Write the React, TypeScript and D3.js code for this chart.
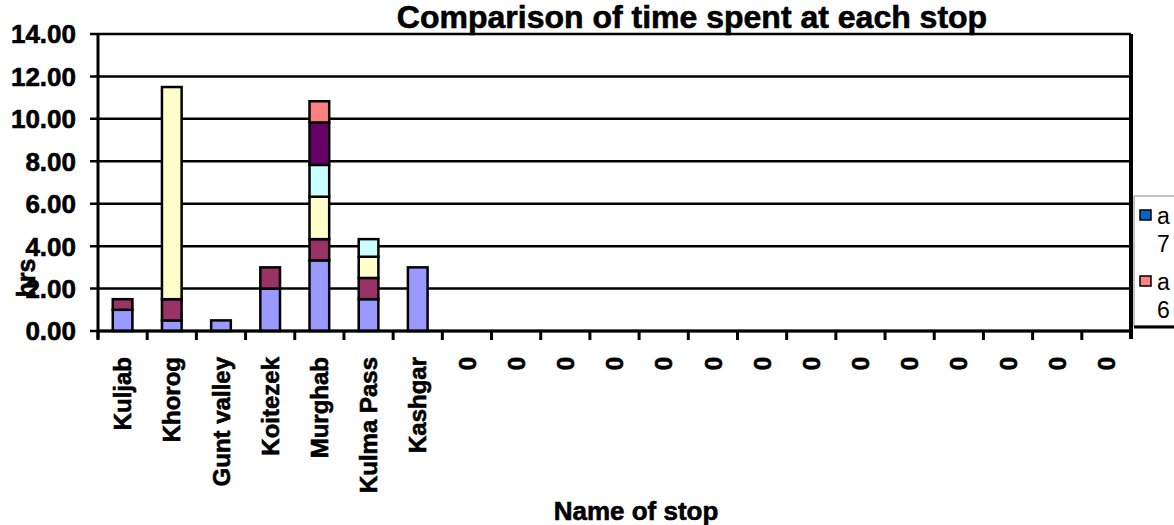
import * as d3 from 'd3';

// Stops along the route; the empty tail of the sheet shows up as "0".
const stops = [
  'Kuljab', 'Khorog', 'Gunt valley', 'Koitezek', 'Murghab', 'Kulma Pass', 'Kashgar',
  '0', '0', '0', '0', '0', '0', '0', '0', '0', '0', '0', '0', '0', '0',
];

// Hours per segment, stacked bottom to top.
const seriesA = [1.0, 0.5, 0.5, 2.0, 3.33, 1.5, 3.0];
const seriesB = [0.5, 1.0, 0, 1.0, 1.0, 1.0, 0];
const seriesC = [0, 10.0, 0, 0, 2.0, 1.0, 0];
const seriesD = [0, 0, 0, 0, 1.5, 0.83, 0];
const seriesE = [0, 0, 0, 0, 2.0, 0, 0];
const seriesF = [0, 0, 0, 0, 1.0, 0, 0];
const seriesColors = ['#9999FF', '#993366', '#FFFFCC', '#CCFFFF', '#660066', '#FF8080'];

const yTicks = [0, 2, 4, 6, 8, 10, 12, 14];

// Clipped legend, only two entries fit in the visible part
const legendItems = [
  { color: '#0066CC', lines: ['a', '7'] },
  { color: '#FF8080', lines: ['a', '6'] },
];

const W = 1174;
const H = 525;
const M = { left: 98, right: 1131, top: 34, bottom: 331 };
const FONT = '"Liberation Sans", Arial, sans-serif';
// the old excel render has very heavy bold text, a thin stroke fakes it
const heavy = { fontWeight: 'bold', stroke: '#000', strokeWidth: 0.6 } as const;

export default function App() {
  const keys = ['a', 'b', 'c', 'd', 'e', 'f'];
  const all = [seriesA, seriesB, seriesC, seriesD, seriesE, seriesF];
  const rows = stops.map((_, i) => {
    const r: Record<string, number> = { i };
    keys.forEach((k, j) => (r[k] = all[j][i] ?? 0));
    return r;
  });
  const stacked = d3.stack<Record<string, number>>().keys(keys)(rows);

  const x = d3
    .scaleBand<number>()
    .domain(stops.map((_, i) => i))
    .range([M.left, M.right])
    .paddingInner(0.6)
    .paddingOuter(0.3);
  const y = d3.scaleLinear().domain([0, 14]).range([M.bottom, M.top]);
  const step = x.step();
  const edgeX = (i: number) => M.left + i * step;

  return (
    <svg
      width={W}
      height={H}
      style={{ position: 'absolute', left: 0, top: 0, background: '#fff' }}
      fontFamily={FONT}
    >
      {/* gridlines */}
      {yTicks.map((t) => (
        <line key={t} x1={M.left - 8} x2={M.right} y1={y(t)} y2={y(t)} stroke="#000" strokeWidth={2.5} />
      ))}
      {yTicks.map((t) => (
        <text key={`l${t}`} x={76} y={y(t)} dy="0.36em" textAnchor="end" fontSize={26} {...heavy}>
          {t.toFixed(2)}
        </text>
      ))}

      {/* bars */}
      {stacked.map((s, j) => (
        <g key={s.key}>
          {s.map((d, i) =>
            d[1] - d[0] > 0 ? (
              <rect
                key={i}
                x={x(i)}
                width={x.bandwidth()}
                y={y(d[1])}
                height={y(d[0]) - y(d[1])}
                fill={seriesColors[j]}
                stroke="#000"
                strokeWidth={2.5}
              />
            ) : null,
          )}
        </g>
      ))}

      {/* axes */}
      <line x1={M.left} x2={M.left} y1={M.top} y2={M.bottom + 8} stroke="#000" strokeWidth={3} />
      <line x1={M.right} x2={M.right} y1={M.top} y2={M.bottom + 8} stroke="#000" strokeWidth={4} />
      <line x1={M.left} x2={M.right} y1={M.bottom} y2={M.bottom} stroke="#000" strokeWidth={3} />
      {stops.map((_, i) => (
        <line key={`t${i}`} x1={edgeX(i)} x2={edgeX(i)} y1={M.bottom} y2={M.bottom + 9} stroke="#000" strokeWidth={3} />
      ))}
      {stops.map((s, i) => {
        const cx = (x(i) ?? 0) + x.bandwidth() / 2;
        return (
          <text
            key={`c${i}`}
            transform={`translate(${cx},357) rotate(-90)`}
            dy="0.36em"
            textAnchor="end"
            fontSize={24}
            {...heavy}
          >
            {s}
          </text>
        );
      })}

      {/* titles */}
      <text x={692} y={28} textAnchor="middle" fontSize={32} {...heavy}>
        Comparison of time spent at each stop
      </text>
      <text x={636} y={520} textAnchor="middle" fontSize={26} {...heavy}>
        Name of stop
      </text>
      <text transform="translate(35,278) rotate(-90)" textAnchor="middle" fontSize={25} {...heavy}>
        hrs
      </text>

      {/* legend */}
      <rect x={1134} y={196} width={60} height={130} fill="#fff" stroke="#888" strokeWidth={1} />
      <line x1={1134} x2={W} y1={327} y2={327} stroke="#000" strokeWidth={3} />
      {legendItems.map((it, k) => {
        const top = 210 + k * 66;
        return (
          <g key={k}>
            <rect x={1140} y={top} width={11} height={10} fill={it.color} stroke="#000" strokeWidth={1.5} />
            <text x={1157} y={top + 14} fontSize={23}>
              {it.lines[0]}
            </text>
            <text x={1157} y={top + 42} fontSize={23}>
              {it.lines[1]}
            </text>
          </g>
        );
      })}
    </svg>
  );
}
